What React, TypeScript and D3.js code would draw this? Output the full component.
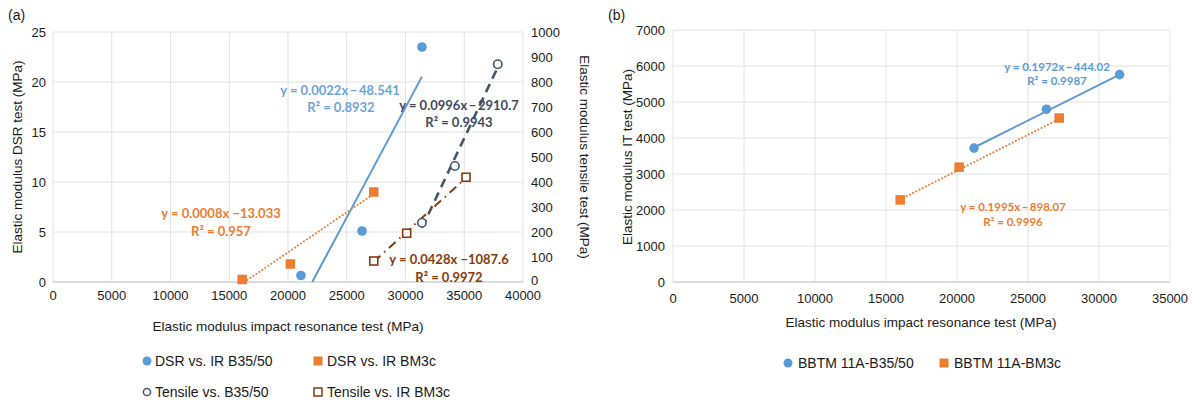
import React from "react";
import * as d3 from "d3";

// ---------- Data (a) ----------
const dsrB3550X = [21100, 26300, 31400];
const dsrB3550Y = [0.65, 5.1, 23.5];
const dsrBM3cX = [16100, 20200, 27300];
const dsrBM3cY = [0.25, 1.8, 9.0];
const tenB3550X = [31400, 34200, 37850];
const tenB3550Y = [237, 464, 871];
const tenBM3cX = [27300, 30100, 35150];
const tenBM3cY = [84, 195, 419];
// trendlines [slope, intercept]
const trendA = {
  dsrB3550: [0.0022, -48.541],
  dsrBM3c: [0.0008, -13.033],
  tenB3550: [0.0996, -2910.7],
  tenBM3c: [0.0428, -1087.6],
};
const labelsA = {
  dsrB3550: ["y = 0.0022x\u2009\u2212\u200948.541", "R\u00b2 = 0.8932"],
  dsrBM3c: ["y = 0.0008x \u221213.033", "R\u00b2 = 0.957"],
  tenB3550: ["y = 0.0996x\u2009\u2212\u20092910.7", "R\u00b2 = 0.9943"],
  tenBM3c: ["y = 0.0428x \u22121087.6", "R\u00b2 = 0.9972"],
};
const xTicksA = [0, 5000, 10000, 15000, 20000, 25000, 30000, 35000, 40000];
const yTicksAL = [0, 5, 10, 15, 20, 25];
const yTicksAR = [0, 100, 200, 300, 400, 500, 600, 700, 800, 900, 1000];
const legendA = ["DSR vs. IR B35/50", "DSR vs. IR BM3c", "Tensile vs. B35/50", "Tensile vs. IR BM3c"];

// ---------- Data (b) ----------
const itB3550X = [21200, 26300, 31450];
const itB3550Y = [3720, 4800, 5760];
const itBM3cX = [16000, 20150, 27200];
const itBM3cY = [2280, 3190, 4555];
const trendB = {
  b3550: [0.1972, -444.02],
  bm3c: [0.1995, -898.07],
};
const labelsB = {
  b3550: ["y = 0.1972x\u2009\u2212\u2009444.02", "R\u00b2 = 0.9987"],
  bm3c: ["y = 0.1995x\u2009\u2212\u2009898.07", "R\u00b2 = 0.9996"],
};
const xTicksB = [0, 5000, 10000, 15000, 20000, 25000, 30000, 35000];
const yTicksB = [0, 1000, 2000, 3000, 4000, 5000, 6000, 7000];
const legendB = ["BBTM 11A-B35/50", "BBTM 11A-BM3c"];

const BLUE = "#5B9BD5";
const ORANGE = "#ED7D31";
const NAVY = "#44546A";
const BROWN = "#843C0C";
const GRID = "#e2e2e2";
const AXIS = "#c8c8c8";
const TXT = "#1a1a1a";
const FONT = "Liberation Sans, Arial, sans-serif";
const LFONT = "Lato, Carlito, sans-serif";
const TICK = 13;

function trendSeg(xs: number[], coef: number[]) {
  const [m, b] = coef;
  let x0 = d3.min(xs)!;
  const x1 = d3.max(xs)!;
  if (m * x0 + b < 0) x0 = -b / m;
  return [
    [x0, m * x0 + b],
    [x1, m * x1 + b],
  ];
}

export default function App() {
  // scales (a)
  const xA = d3.scaleLinear().domain([0, 40000]).range([53, 523]);
  const yAL = d3.scaleLinear().domain([0, 25]).range([282, 32]);
  const yAR = d3.scaleLinear().domain([0, 1000]).range([282, 32]);
  // scales (b)
  const xB = d3.scaleLinear().domain([0, 35000]).range([673, 1170]);
  const yB = d3.scaleLinear().domain([0, 7000]).range([282, 30]);

  const line = (sx: any, sy: any) =>
    d3
      .line<number[]>()
      .x((d) => sx(d[0]))
      .y((d) => sy(d[1]));

  const sq = (cx: number, cy: number, s: number, fill: string, stroke: string, sw = 0, key?: any) => (
    <rect key={key} x={cx - s / 2} y={cy - s / 2} width={s} height={s} fill={fill} stroke={stroke} strokeWidth={sw} />
  );

  const eqLabel = (lines: string[], x: number, y: number, color: string, size: number, gap: number, offs: number[]) => (
    <g fontFamily={LFONT} fontWeight="bold" fontSize={size} fill={color} textAnchor="middle">
      <text x={x + offs[0]} y={y}>{lines[0]}</text>
      <text x={x + offs[1]} y={y + gap}>{lines[1]}</text>
    </g>
  );

  return (
    <svg width={1192} height={403} style={{ display: "block", position: "absolute", left: 0, top: 0 }}>
      <rect width={1192} height={403} fill="#fff" />
      {/* ================= (a) ================= */}
      <text x={8} y={20} fontFamily={FONT} fontSize={14} fill={TXT}>(a)</text>
      {yTicksAL.map((t) => (
        <line key={"ga" + t} x1={xA(0)} x2={xA(40000)} y1={yAL(t)} y2={yAL(t)} stroke={GRID} strokeWidth={1} />
      ))}
      {xTicksA.map((t) => (
        <line key={"gva" + t} x1={xA(t)} x2={xA(t)} y1={yAL(0)} y2={yAL(25)} stroke={GRID} strokeWidth={1} />
      ))}
      <line x1={xA(0)} x2={xA(40000)} y1={yAL(0)} y2={yAL(0)} stroke={AXIS} />
      {yTicksAL.map((t) => (
        <text key={"yla" + t} x={46} y={yAL(t) + 5} textAnchor="end" fontFamily={FONT} fontSize={TICK} fill={TXT}>{t}</text>
      ))}
      {yTicksAR.map((t) => (
        <text key={"yra" + t} x={531} y={yAR(t) + (t === 0 ? 3 : 5)} textAnchor="start" fontFamily={FONT} fontSize={TICK} fill={TXT}>{t}</text>
      ))}
      {xTicksA.map((t) => (
        <text key={"xla" + t} x={xA(t)} y={300} textAnchor="middle" fontFamily={FONT} fontSize={TICK} fill={TXT}>{t}</text>
      ))}
      <text x={288} y={331} textAnchor="middle" fontFamily={FONT} fontSize={13.5} fill={TXT}>Elastic modulus impact resonance test (MPa)</text>
      <text transform={`translate(22,157) rotate(-90)`} textAnchor="middle" fontFamily={FONT} fontSize={13.5} fill={TXT}>Elastic modulus DSR test (MPa)</text>
      <text transform={`translate(580,157) rotate(90)`} textAnchor="middle" fontFamily={FONT} fontSize={13.5} fill={TXT}>Elastic modulus tensile test (MPa)</text>

      {/* trendlines */}
      <path d={line(xA, yAL)(trendSeg(dsrB3550X, trendA.dsrB3550))!} stroke={BLUE} strokeWidth={2} fill="none" />
      <path d={line(xA, yAL)(trendSeg(dsrBM3cX, trendA.dsrBM3c))!} stroke={ORANGE} strokeWidth={2} strokeDasharray="0.1,3.5" strokeLinecap="round" fill="none" />
      <path d={line(xA, yAR)(trendSeg(tenB3550X, trendA.tenB3550))!} stroke={NAVY} strokeWidth={2.6} strokeDasharray="9,6" fill="none" />
      <path d={line(xA, yAR)(trendSeg(tenBM3cX, trendA.tenBM3c))!} stroke={BROWN} strokeWidth={2} strokeDasharray="9,5,1.5,5" fill="none" />

      {/* points */}
      {dsrB3550X.map((x, i) => (
        <circle key={"p1" + i} cx={xA(x)} cy={yAL(dsrB3550Y[i])} r={4.8} fill={BLUE} />
      ))}
      {dsrBM3cX.map((x, i) => sq(xA(x), yAL(dsrBM3cY[i]), 9.5, ORANGE, "none", 0, "p2" + i))}
      {tenB3550X.map((x, i) => (
        <circle key={"p3" + i} cx={xA(x)} cy={yAR(tenB3550Y[i])} r={4.2} fill="#fff" stroke={NAVY} strokeWidth={1.6} />
      ))}
      {tenBM3cX.map((x, i) => sq(xA(x), yAR(tenBM3cY[i]), 8, "#fff", BROWN, 1.6, "p4" + i))}

      {/* equation labels */}
      {eqLabel(labelsA.dsrB3550, 340, 95, "#6FA3D8", 13, 17, [0, 1])}
      {eqLabel(labelsA.dsrBM3c, 221, 218, ORANGE, 13, 18, [0, 0])}
      {eqLabel(labelsA.tenB3550, 459, 110, "#3F4A5C", 13, 17, [0, 0])}
      {eqLabel(labelsA.tenBM3c, 449, 264, BROWN, 13, 18, [0, 0])}

      {/* legend (a) */}
      <circle cx={147} cy={361} r={4.5} fill={BLUE} />
      <text x={155} y={366} fontFamily={FONT} fontSize={14} fill={TXT}>{legendA[0]}</text>
      {sq(318, 361, 9, ORANGE, "none")}
      <text x={327} y={366} fontFamily={FONT} fontSize={14} fill={TXT}>{legendA[1]}</text>
      <circle cx={147} cy={392} r={3.6} fill="#fff" stroke={NAVY} strokeWidth={1.5} />
      <text x={155} y={397} fontFamily={FONT} fontSize={14} fill={TXT}>{legendA[2]}</text>
      {sq(318, 392, 8, "#fff", BROWN, 1.5)}
      <text x={327} y={397} fontFamily={FONT} fontSize={14} fill={TXT}>{legendA[3]}</text>

      {/* ================= (b) ================= */}
      <text x={608} y={20} fontFamily={FONT} fontSize={14} fill={TXT}>(b)</text>
      {yTicksB.map((t) => (
        <line key={"gb" + t} x1={xB(0)} x2={xB(35000)} y1={yB(t)} y2={yB(t)} stroke={GRID} />
      ))}
      {xTicksB.map((t) => (
        <line key={"gvb" + t} x1={xB(t)} x2={xB(t)} y1={yB(0)} y2={yB(7000)} stroke={GRID} />
      ))}
      <line x1={xB(0)} x2={xB(35000)} y1={yB(0)} y2={yB(0)} stroke={AXIS} />
      {yTicksB.map((t) => (
        <text key={"ylb" + t} x={665} y={yB(t) + 5} textAnchor="end" fontFamily={FONT} fontSize={TICK} fill={TXT}>{t}</text>
      ))}
      {xTicksB.map((t) => (
        <text key={"xlb" + t} x={xB(t)} y={303} textAnchor="middle" fontFamily={FONT} fontSize={TICK} fill={TXT}>{t}</text>
      ))}
      <text x={921} y={327} textAnchor="middle" fontFamily={FONT} fontSize={13.5} fill={TXT}>Elastic modulus impact resonance test (MPa)</text>
      <text transform={`translate(632,157) rotate(-90)`} textAnchor="middle" fontFamily={FONT} fontSize={13.5} fill={TXT}>Elastic modulus IT test (MPa)</text>

      <path d={line(xB, yB)(trendSeg(itB3550X, trendB.b3550))!} stroke={BLUE} strokeWidth={2} fill="none" />
      <path d={line(xB, yB)(trendSeg(itBM3cX, trendB.bm3c))!} stroke={ORANGE} strokeWidth={2} strokeDasharray="0.1,3.5" strokeLinecap="round" fill="none" />
      {itB3550X.map((x, i) => (
        <circle key={"q1" + i} cx={xB(x)} cy={yB(itB3550Y[i])} r={4.8} fill={BLUE} />
      ))}
      {itBM3cX.map((x, i) => sq(xB(x), yB(itBM3cY[i]), 9.5, ORANGE, "none", 0, "q2" + i))}

      {eqLabel(labelsB.b3550, 1057, 71, "#5B9BD5", 11.5, 14, [0, 0])}
      {eqLabel(labelsB.bm3c, 1013, 211, ORANGE, 11.5, 15, [0, 0])}

      <circle cx={788} cy={363} r={4.5} fill={BLUE} />
      <text x={798} y={368} fontFamily={FONT} fontSize={14} fill={TXT}>{legendB[0]}</text>
      {sq(944, 363, 9, ORANGE, "none")}
      <text x={954} y={368} fontFamily={FONT} fontSize={14} fill={TXT}>{legendB[1]}</text>
    </svg>
  );
}
